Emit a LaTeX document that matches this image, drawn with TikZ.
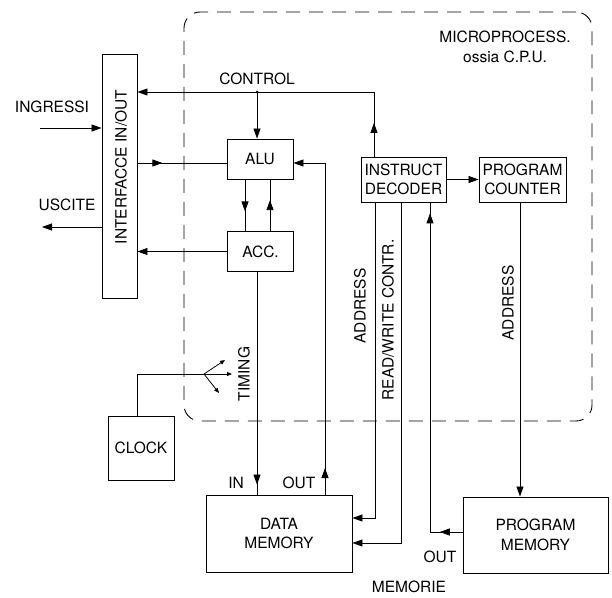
\documentclass[tikz,border=0pt]{standalone}
\usepackage{fontspec}
\setmainfont{TeX Gyre Heros}
\usetikzlibrary{arrows.meta,decorations.markings}
\newcommand\lblfont{\fontsize{15.5}{19.5}\selectfont}
\tikzset{
  box/.style={draw, line width=0.9pt, inner sep=0pt, align=center, font=\lblfont},
  cpubox/.style={draw, line width=0.9pt, dash pattern=on 14pt off 9pt, rounded corners=16pt, inner sep=0pt},
  wire/.style={line width=0.8pt},
  tip/.style={-{Triangle[length=10pt,width=7pt]}},
  smalltip/.style={-{Triangle[length=5pt,width=4pt]}},
  midtip/.style={postaction={decorate}, decoration={markings, mark=at position #1 with {\arrow{Triangle[length=10pt,width=7pt]}}}},
  lbl/.style={font=\lblfont, inner sep=0pt, align=center},
}
\begin{document}
\begin{tikzpicture}[x=1pt,y=-1pt]
\useasboundingbox (0,0) rectangle (612,597);
% CPU boundary
\node[cpubox, minimum width=408pt, minimum height=409pt] (cpu) at (388,216.5) {};
\node[lbl] (cputxt) at (505,47) {MICROPROCESS.\\ossia C.P.U.};
% boxes
\node[box, minimum width=35pt, minimum height=244pt] (iface) at (119.5,176) {};
\node[lbl, rotate=90] (ifacet) at (121,167) {INTERFACCE IN/OUT};
\node[box, minimum width=66pt, minimum height=40pt] (alu) at (260,159) {ALU};
\node[box, minimum width=66pt, minimum height=40pt] (acc) at (260.5,251.5) {ACC.};
\node[box, minimum width=85pt, minimum height=45pt] (dec) at (403.5,179.5) {INSTRUCT\\DECODER};
\node[box, minimum width=87pt, minimum height=45pt] (pc) at (522.5,179.5) {PROGRAM\\COUNTER};
\node[box, minimum width=66pt, minimum height=64pt] (clock) at (141,448) {CLOCK};
\node[box, minimum width=146pt, minimum height=77pt] (dm) at (279,533.5) {DATA\\MEMORY};
\node[box, minimum width=145pt, minimum height=76pt] (pm) at (535.5,535) {PROGRAM\\MEMORY};
% labels
\node[lbl] (ingt) at (52,107) {INGRESSI};
\node[lbl] (usct) at (67,205) {USCITE};
\node[lbl] (ctlt) at (257,79) {CONTROL};
\node[lbl, rotate=90] (timt) at (244,374) {TIMING};
\node[lbl, rotate=90] (addr1) at (360,306) {ADDRESS};
\node[lbl, rotate=90] (rwt) at (388,320) {READ/WRITE CONTR.};
\node[lbl, rotate=90] (addr2) at (508,303) {ADDRESS};
\node[lbl] (int) at (236,483) {IN};
\node[lbl] (outt) at (299,483) {OUT};
\node[lbl] (pmout) at (440,557) {OUT};
\node[lbl] (memt) at (409,587) {MEMORIE};
% inputs / outputs
\coordinate (inI) at (40,128);
\draw[wire,tip] (inI) -- (inI -| iface.west);
\coordinate (outU) at (42,227);
\draw[wire,tip] (outU -| iface.west) -- (outU);
% control
\coordinate (ctlC) at (374,92);
\coordinate (ctlJ) at (257,92);
\draw[wire, midtip=0.52] (dec.north -| ctlC) -- (ctlC);
\draw[wire,tip] (ctlC) -- (ctlC -| iface.east);
\fill (ctlJ) circle (1.5pt);
\draw[wire,tip] (ctlJ) -- (ctlJ |- alu.north);
% interface <-> alu/acc
\coordinate (ia) at (0,163);
\draw[wire, midtip=0.28] (iface.east |- ia) -- (alu.west |- ia);
\draw[wire,tip] (acc.west) -- (acc.west -| iface.east);
% alu <-> acc
\coordinate (x1) at (245,0);
\coordinate (x2) at (270,0);
\draw[wire, midtip=0.62] (alu.south -| x1) -- (acc.north -| x1);
\draw[wire, midtip=0.6] (acc.north -| x2) -- (alu.south -| x2);
% data memory out -> alu
\coordinate (oC) at (325,163);
\draw[wire, midtip=0.08] (dm.north -| oC) -- (oC);
\draw[wire,tip] (oC) -- (oC -| alu.east);
% acc -> data memory in
\coordinate (x3) at (257,0);
\draw[wire, midtip=0.955] (acc.south -| x3) -- (dm.north -| x3);
% decoder -> data memory
\coordinate (aC) at (375,518);
\draw[wire,tip] (dec.south -| aC) |- (aC -| dm.east);
\coordinate (rC) at (401,543);
\draw[wire,tip] (dec.south -| rC) |- (rC -| dm.east);
% program memory -> decoder
\coordinate (pC) at (430,532);
\draw[wire, midtip=0.7] (pm.west |- pC) -- (pC);
\draw[wire, midtip=0.967] (pC) -- (pC |- dec.south);
% decoder -> pc -> program memory
\draw[wire,tip] (dec.east) -- (pc.west);
\coordinate (x4) at (520,0);
\draw[wire,tip] (pc.south -| x4) -- (pm.north -| x4);
% clock / timing
\coordinate (x5) at (137,0);
\coordinate (tC) at (204,374);
\coordinate (t1) at (225,360);
\coordinate (t2) at (232,374);
\coordinate (t3) at (219,393);
\draw[wire] (clock.north -| x5) |- (tC);
\draw[wire,smalltip] (tC) -- (t1);
\draw[wire,smalltip] (tC) -- (t2);
\draw[wire,smalltip] (tC) -- (t3);
\end{tikzpicture}
\end{document}
